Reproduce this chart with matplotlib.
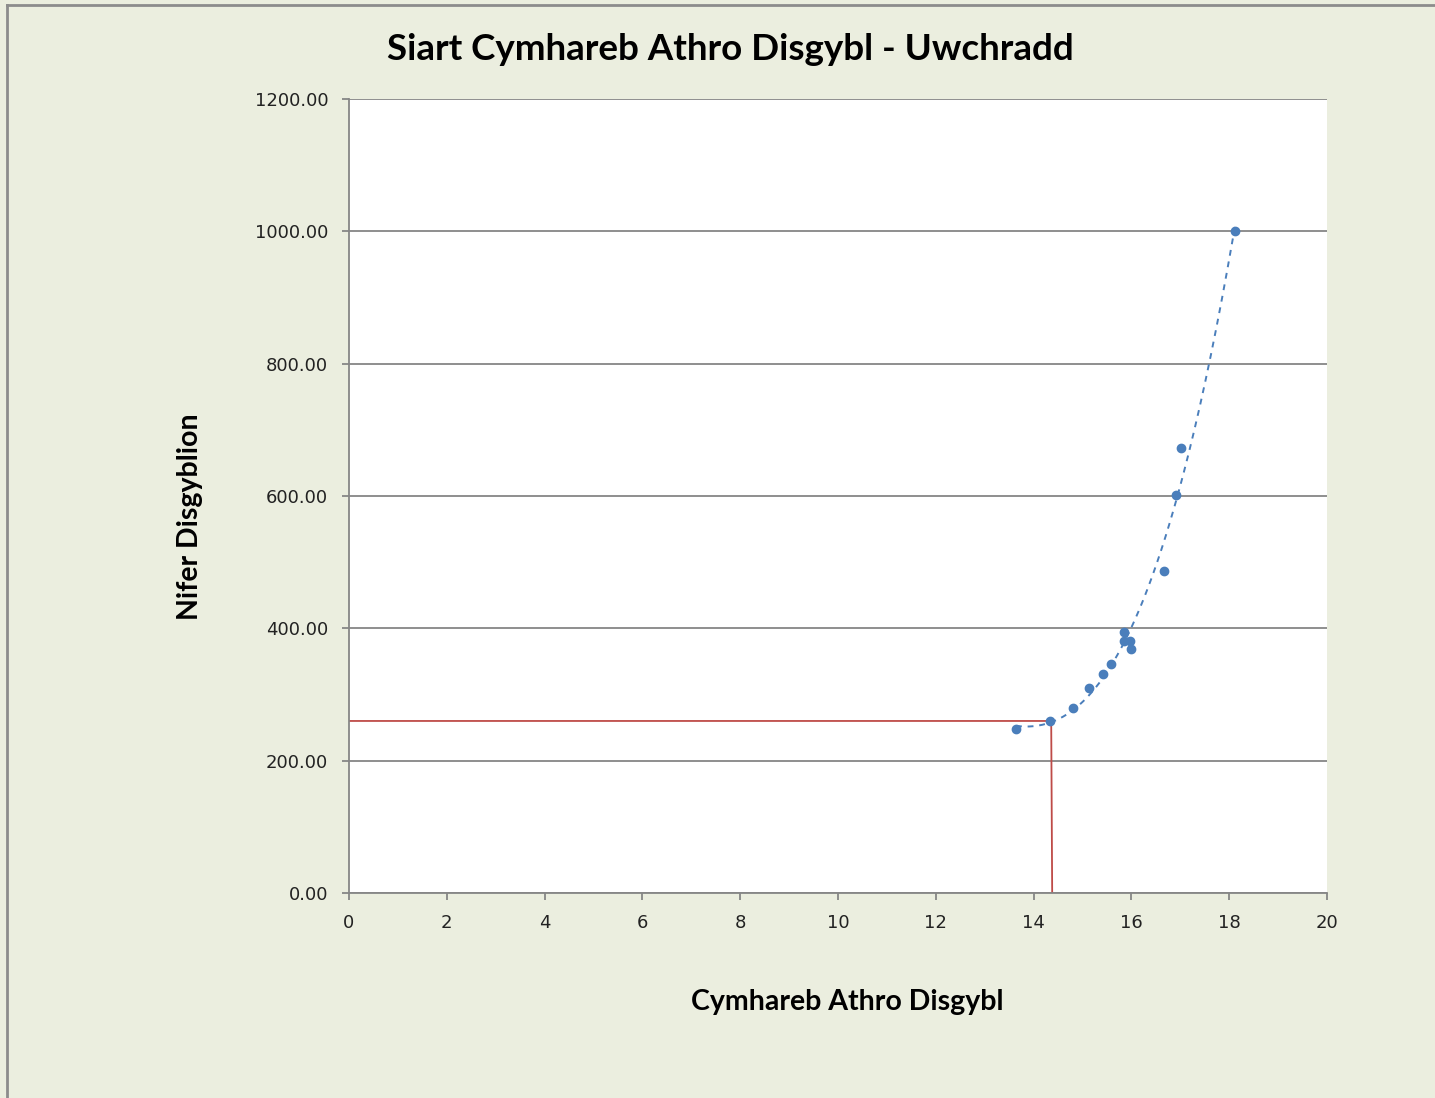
import matplotlib.pyplot as plt
import numpy as np
from matplotlib.lines import Line2D

# data
cymhareb = [13.64, 14.34, 14.81, 15.13, 15.42, 15.58, 15.85, 15.85, 15.97, 16.00, 16.67, 16.91, 17.01, 18.12]
disgyblion = [248, 260, 280, 310, 331, 346, 394, 381, 381, 369, 487, 601, 672, 1000]

# red guide line (reading at 260 pupils)
guide_x = [0, 14.36, 14.38]
guide_y = [260, 260, 0]

x_ticks = [0, 2, 4, 6, 8, 10, 12, 14, 16, 18, 20]
y_ticks = [0, 200, 400, 600, 800, 1000, 1200]

bg = "#EBEEDF"
grey = "#868686"
blue = "#4A7EBB"
red = "#BE4B48"

fig = plt.figure(figsize=(14.35, 10.98), dpi=100, facecolor=bg)

# outer chart border (left and top visible)
fig.add_artist(Line2D([7 / 1435, 7 / 1435], [0, 1 - 5 / 1098], transform=fig.transFigure, color="#8c8c8c", lw=2))
fig.add_artist(Line2D([7 / 1435, 1], [1 - 5 / 1098, 1 - 5 / 1098], transform=fig.transFigure, color="#8c8c8c", lw=2))

ax = fig.add_axes([349 / 1435, 1 - 893 / 1098, 978 / 1435, 794 / 1098])
ax.set_facecolor("white")

ax.set_xlim(0, 20)
ax.set_ylim(0, 1200)
ax.set_xticks(x_ticks)
ax.set_yticks(y_ticks)
ax.set_yticklabels(["%.2f" % v for v in y_ticks])

ax.grid(axis="y", color=grey, lw=1.3)
ax.set_axisbelow(True)
for s in ["top", "right"]:
    ax.spines[s].set_visible(False)
for s in ["left", "bottom"]:
    ax.spines[s].set_color(grey)
    ax.spines[s].set_linewidth(1.3)
ax.tick_params(colors=grey, labelcolor="#222222", labelsize=13, length=5, width=1.3)
ax.tick_params(axis="x", pad=10)
ax.tick_params(axis="y", pad=10)
for lab in ax.get_xticklabels() + ax.get_yticklabels():
    lab.set_fontfamily("DejaVu Sans")

# dashed trendline through the points
x = np.array(cymhareb)
y = np.array(disgyblion)
coef = np.polyfit(x, y, 3)
xs = np.linspace(x.min(), x.max(), 200)
ax.plot(xs, np.polyval(coef, xs), color=blue, ls=(0, (3, 3)), lw=1.4)

ax.plot(guide_x, guide_y, color=red, lw=1.3)
ax.plot(cymhareb, disgyblion, "o", color=blue, ms=6, zorder=5)

fig.text(730 / 1435, 1 - 50 / 1098, "Siart Cymhareb Athro Disgybl - Uwchradd",
         ha="center", va="center", fontsize=26.5, fontweight="bold", family="Lato")
fig.text(847 / 1435, 1 - 1002 / 1098, "Cymhareb Athro Disgybl",
         ha="center", va="center", fontsize=20.5, fontweight="bold", family="Lato")
fig.text(190 / 1435, 1 - 517 / 1098, "Nifer Disgyblion", rotation=90,
         ha="center", va="center", fontsize=20.5, fontweight="bold", family="Lato")

plt.savefig("out.png", dpi=100, facecolor=bg)
